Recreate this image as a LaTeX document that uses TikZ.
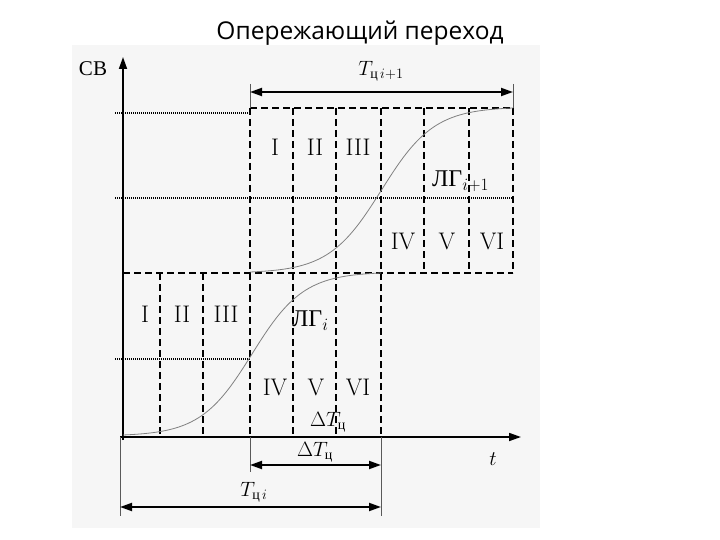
\documentclass[tikz,border=0pt]{standalone}
\usepackage{fontspec}
\usetikzlibrary{arrows.meta}
\newfontfamily\cyr{Liberation Serif}
\newfontfamily\titlefont{Open Sans}
\newcommand{\tsub}{\mbox{\fontsize{14}{14}\selectfont\cyr ц}}
\begin{document}
\begin{tikzpicture}[x=1pt,y=-1pt,
  axis/.style={line width=1.7pt,-{Triangle[length=12pt,width=8pt]}},
  bdash/.style={line width=2.4pt,dash pattern=on 7pt off 4pt},
  vdash/.style={line width=1.7pt,dash pattern=on 7pt off 4pt},
  dots/.style={line width=1.5pt,dash pattern=on 1pt off 1pt},
  curvestyle/.style={gray,line width=0.8pt},
  dim/.style={line width=1.9pt,{Triangle[length=12pt,width=8pt]}-{Triangle[length=12pt,width=8pt]}},
  ext/.style={line width=0.5pt,gray!70!black},
  lbl/.style={font=\fontsize{24}{26}\selectfont,inner sep=0pt},
  lglbl/.style={font=\fontsize{24}{26}\selectfont,inner sep=0pt},
  mlbl/.style={font=\fontsize{22}{24}\selectfont,inner sep=0pt}]
\useasboundingbox (0,0) rectangle (720,540);
\fill[gray!7] (72,45) rectangle (540,528);
\node[inner sep=0pt,font=\fontsize{24.5}{26}\selectfont\titlefont] (title) at (360,33) {Опережающий переход};

% coordinates
\coordinate (ytop) at (123,57);
\coordinate (xend) at (521,437);
% axes
\draw[axis] (123,440) -- (ytop);
\draw[axis] (120,437) -- (xend);
\node[inner sep=0pt,font=\fontsize{21}{22}\selectfont\cyr] (cv) at (93,69) {СВ};
\node[mlbl] (t) at (493,459) {$t$};

% dotted levels
\draw[dots] (115,113) -- (250,113);
\draw[dots] (115,198) -- (513,198);
\draw[dots] (115,359) -- (250,359);

% dashed horizontals
\draw[bdash] (250,108) -- (513,108);
\draw[bdash] (123,273) -- (513,273);

% verticals
\foreach \x in {250,293,336,381} \draw[vdash] (\x,108) -- (\x,437);
\foreach \x in {424,469,513} \draw[vdash] (\x,108) -- (\x,273);
\foreach \x in {160,203} \draw[vdash] (\x,273) -- (\x,437);

% curves
\draw[curvestyle] plot[domain=0:1,samples=80,smooth]
  ({123+258*\x},{435-162*(0.5+0.5*tanh(5*(\x-0.5))/tanh(2.5))});
\draw[curvestyle] plot[domain=0:1,samples=80,smooth]
  ({250+263*\x},{272-164*(0.5+0.5*tanh(5*(\x-0.5))/tanh(2.5))});

% roman numerals upper
\node[lbl] (u1) at (275,147) {I};
\node[lbl] (u2) at (315,147) {II};
\node[lbl] (u3) at (358,147) {III};
\node[lbl] (u4) at (403,241) {IV};
\node[lbl] (u5) at (447,241) {V};
\node[lbl] (u6) at (492,241) {VI};
\node[lglbl,anchor=west] (lg2) at (432,181) {{\cyr ЛГ}$_{i+1}$};
% lower
\node[lbl] (l1) at (145,314) {I};
\node[lbl] (l2) at (182,314) {II};
\node[lbl] (l3) at (226,314) {III};
\node[lbl] (l4) at (275,387) {IV};
\node[lbl] (l5) at (316,387) {V};
\node[lbl] (l6) at (358,387) {VI};
\node[lglbl,anchor=west] (lg1) at (292,321) {{\cyr ЛГ}$_{i}$};
\node[mlbl] (dTin) at (328,422) {$\Delta T_{\tsub}$};

% extension lines
\draw[ext] (250,84) -- (250,108);
\draw[ext] (513,84) -- (513,108);
\draw[ext] (250,437) -- (250,472);
\draw[ext] (381,437) -- (381,516);
\draw[ext] (120,437) -- (120,516);

% dimension arrows
\coordinate (a1) at (250,92);
\coordinate (a2) at (513,92);
\draw[dim] (a1) -- (a2);
\node[mlbl] (Ti1) at (381,71) {$T_{\tsub\,i+1}$};
\coordinate (b1) at (250,465);
\coordinate (b2) at (381,465);
\draw[dim] (b1) -- (b2);
\node[mlbl] (dT) at (315,452) {$\Delta T_{\tsub}$};
\coordinate (c1) at (120,507);
\coordinate (c2) at (381,507);
\draw[dim] (c1) -- (c2);
\node[mlbl] (Ti) at (254,492) {$T_{\tsub\,i}$};
\end{tikzpicture}
\end{document}
